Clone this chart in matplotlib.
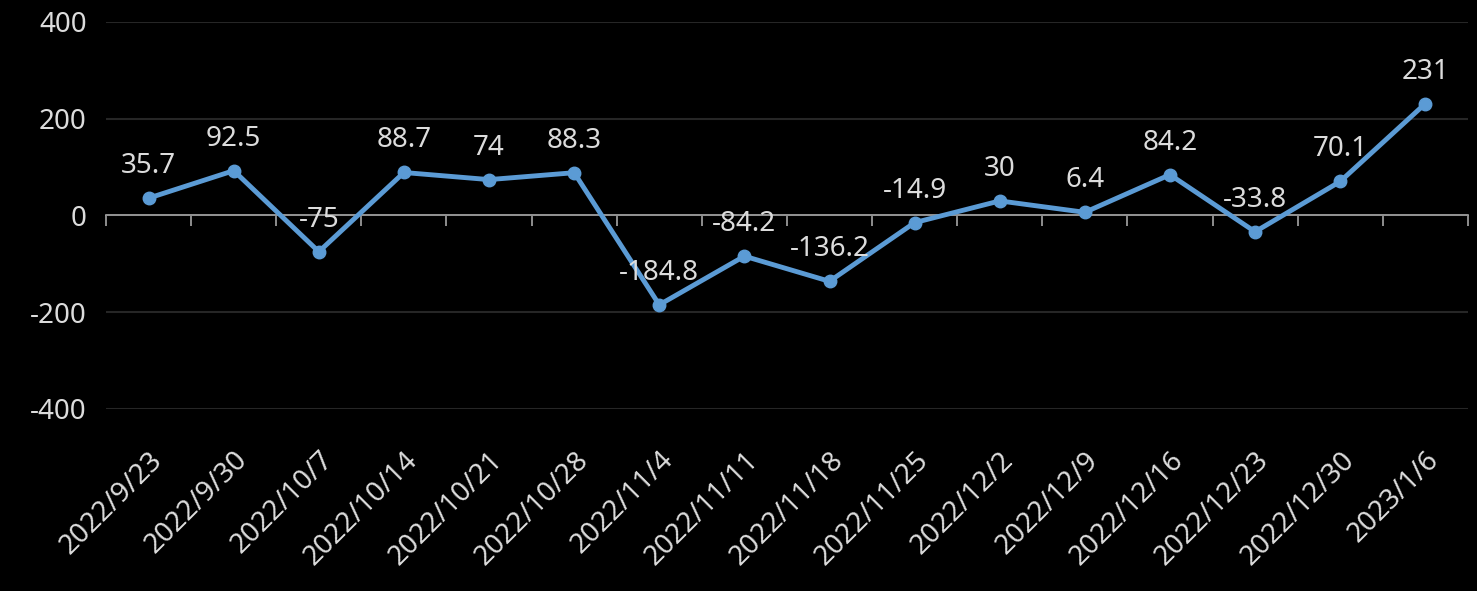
import numpy as np
import matplotlib
matplotlib.use("Agg")
import matplotlib.pyplot as plt

dates = ["2022/9/23", "2022/9/30", "2022/10/7", "2022/10/14", "2022/10/21",
         "2022/10/28", "2022/11/4", "2022/11/11", "2022/11/18", "2022/11/25",
         "2022/12/2", "2022/12/9", "2022/12/16", "2022/12/23", "2022/12/30",
         "2023/1/6"]
values = [35.7, 92.5, -75, 88.7, 74, 88.3, -184.8, -84.2, -136.2, -14.9,
          30, 6.4, 84.2, -33.8, 70.1, 231]
yticks = [-400, -200, 0, 200, 400]

plt.rcParams['font.family'] = ['Noto Sans', 'DejaVu Sans']
txt = '#dcdcdc'
blue = '#5b9bd5'

fig = plt.figure(figsize=(14.77, 5.91), dpi=100, facecolor='black')
ax = fig.add_axes([0.0718, 0.308, 0.922, 0.655], facecolor='black')

x = np.arange(len(values))
ax.plot(x, values, color=blue, lw=3.5, marker='o', ms=9, zorder=3)
for xi, v in zip(x, values):
    ax.annotate(f"{v:g}", (xi, v), xytext=(0, 18), textcoords='offset points',
                ha='center', va='baseline', color=txt, fontsize=20, zorder=4)

ax.set_xlim(-0.5, len(values) - 0.5)
ax.set_ylim(-400, 400)
ax.set_yticks(yticks)
ax.set_yticklabels([str(t) for t in yticks])
ax.grid(axis='y', color='#262626', lw=1.5)
ax.set_axisbelow(True)

for s in ['top', 'right', 'left']:
    ax.spines[s].set_visible(False)
ax.spines['bottom'].set_position(('data', 0))
ax.spines['bottom'].set_color('#a6a6a6')
ax.spines['bottom'].set_linewidth(1.2)

ax.set_xticks(x)
ax.set_xticks(np.arange(len(values) + 1) - 0.5, minor=True)
ax.tick_params(axis='x', which='minor', length=8, color='#a6a6a6', width=1.2)
ax.tick_params(axis='x', which='major', length=0, pad=166)
ax.set_xticklabels(dates, rotation=45, ha='right', rotation_mode='anchor',
                   color=txt, fontsize=20)
ax.tick_params(axis='y', length=0, labelcolor=txt, labelsize=20, pad=14)

fig.savefig('out.png', dpi=100, facecolor='black')
